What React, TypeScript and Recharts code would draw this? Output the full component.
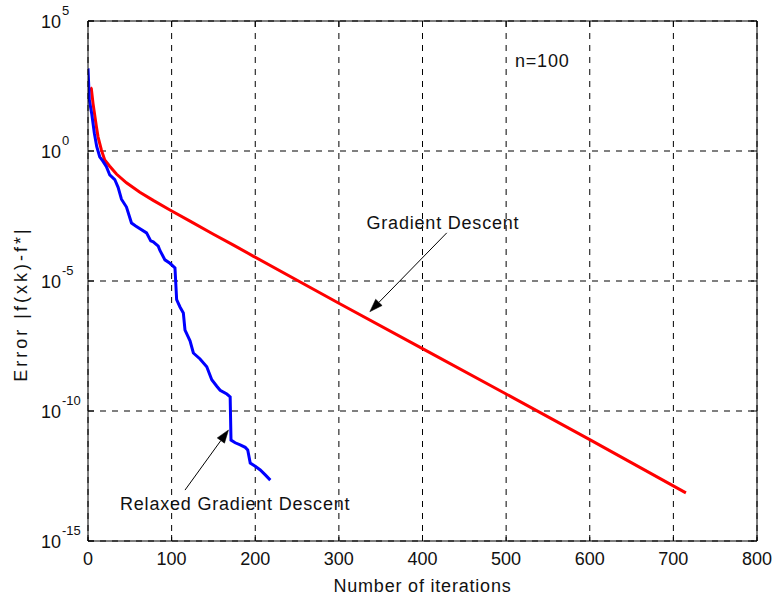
import React from "react";
import {
  LineChart,
  Line,
  XAxis,
  YAxis,
  CartesianGrid,
  ReferenceLine,
} from "recharts";

// ---------- data ----------
const GD_ITER = [3, 4, 6, 10, 12, 16, 20, 26, 34, 46, 62, 78, 98, 122, 150, 174, 198, 300, 400, 500, 600, 715];
const GD_ERR = [
  2.8e2, 2.5e2, 6.8e1, 8.7, 3.5, 1.1, 4.5e-1, 2.6e-1, 1.3e-1, 6.0e-2, 2.6e-2, 1.26e-2,
  5.4e-3, 2.0e-3, 6.3e-4, 2.4e-4, 8.9e-5, 1.4e-6, 2.5e-8, 4.5e-10, 7.9e-12, 7.1e-14,
];

const RGD_ITER = [
  0, 1.6, 4.4, 7.6, 10.4, 14, 18, 22, 26, 32, 36, 40, 46, 52, 57, 70, 75, 78, 84, 86, 92,
  98, 104, 106, 110, 114, 116, 122, 126, 134, 142, 148, 154, 158, 166, 170, 171, 176, 182,
  188, 191, 194, 200, 206, 212, 218,
];
const RGD_ERR = [
  1.5e3, 9.1e1, 2.8e1, 4.8, 1.5, 6.0e-1, 4.0e-1, 2.5e-1, 1.2e-1, 8.0e-2, 4.0e-2, 1.4e-2,
  7.0e-3, 1.7e-3, 1.3e-3, 7.1e-4, 3.5e-4, 3.2e-4, 2.2e-4, 1.5e-4, 6.5e-5, 4.8e-5, 3.2e-5,
  1.9e-6, 1.0e-6, 5.9e-7, 1.3e-7, 5.0e-8, 1.7e-8, 1.0e-8, 5.0e-9, 1.6e-9, 9.0e-10, 6.3e-10,
  4.5e-10, 3.5e-10, 7.6e-12, 6.0e-12, 5.0e-12, 4.0e-12, 3.2e-12, 1.0e-12, 7.5e-13, 5.4e-13,
  3.5e-13, 2.2e-13,
];

const X_TICKS = [0, 100, 200, 300, 400, 500, 600, 700, 800];
const Y_TICKS = [1e-15, 1e-10, 1e-5, 1, 1e5];
const Y_EXP: Record<string, string> = {
  "1e-15": "-15",
  "1e-10": "-10",
  "0.00001": "-5",
  "1": "0",
  "100000": "5",
};

const gdData = GD_ITER.map((x, i) => ({ x, y: GD_ERR[i] }));
const rgdData = RGD_ITER.map((x, i) => ({ x, y: RGD_ERR[i] }));

// ---------- layout ----------
const W = 774;
const H = 599;
const PLOT_LEFT = 88;
const PLOT_RIGHT = 757;
const PLOT_TOP = 21;
const PLOT_BOTTOM = 541;
const FONT = "'Liberation Sans', Arial, sans-serif";
const TEXT_FILL = "#111";

const expOf = (v: number): string => {
  const k = String(v);
  if (Y_EXP[k] !== undefined) return Y_EXP[k];
  return String(Math.round(Math.log10(v)));
};

const YTick = (props: any) => {
  const { y, payload } = props;
  const e = expOf(payload.value);
  return (
    <g>
      <line x1={PLOT_LEFT} x2={PLOT_LEFT + 6} y1={y} y2={y} stroke="#000" strokeWidth={1} />
      <line x1={PLOT_RIGHT - 6} x2={PLOT_RIGHT} y1={y} y2={y} stroke="#000" strokeWidth={1} />
      <text x={PLOT_LEFT - 27} y={y + 6.5} textAnchor="end" fontSize={18} fontFamily={FONT} fill={TEXT_FILL}>
        10
      </text>
      <text x={PLOT_LEFT - 26} y={y - 6} textAnchor="start" fontSize={13} fontFamily={FONT} fill={TEXT_FILL}>
        {e}
      </text>
    </g>
  );
};

const XTick = (props: any) => {
  const { x, payload } = props;
  return (
    <g>
      <line x1={x} x2={x} y1={PLOT_BOTTOM} y2={PLOT_BOTTOM - 6} stroke="#000" strokeWidth={1} />
      <line x1={x} x2={x} y1={PLOT_TOP} y2={PLOT_TOP + 6} stroke="#000" strokeWidth={1} />
      <text x={x} y={PLOT_BOTTOM + 24} textAnchor="middle" fontSize={18} fontFamily={FONT} fill={TEXT_FILL}>
        {payload.value}
      </text>
    </g>
  );
};

const Arrow = (p: any) => {
  const { x1, y1, x2, y2 } = p;
  if ([x1, y1, x2, y2].some((v) => v === undefined || isNaN(v))) return null;
  const dx = x2 - x1;
  const dy = y2 - y1;
  const L = Math.hypot(dx, dy) || 1;
  const ux = dx / L;
  const uy = dy / L;
  const hl = 13;
  const hw = 4.5;
  const bx = x2 - ux * hl;
  const by = y2 - uy * hl;
  const pts = `${x2},${y2} ${bx - uy * hw},${by + ux * hw} ${bx + uy * hw},${by - ux * hw}`;
  return (
    <g>
      <line x1={x1} y1={y1} x2={bx} y2={by} stroke="#000" strokeWidth={1} />
      <polygon points={pts} fill="#000" stroke="#000" strokeWidth={0.5} />
    </g>
  );
};

export default function App() {
  return (
    <div style={{ position: "absolute", left: 0, top: 0, width: W, height: H, background: "#fff" }}>
      <LineChart
        width={W}
        height={H}
        margin={{ top: PLOT_TOP, right: W - PLOT_RIGHT, bottom: H - PLOT_BOTTOM - 30, left: 0 }}
      >
        <CartesianGrid stroke="#000" strokeWidth={1} strokeDasharray="6 6" />
        <XAxis
          type="number"
          dataKey="x"
          domain={[0, 800]}
          ticks={X_TICKS}
          allowDataOverflow
          height={30}
          tickLine={false}
          axisLine={{ stroke: "#000", strokeWidth: 1 }}
          tick={<XTick />}
          interval={0}
        />
        <YAxis
          type="number"
          dataKey="y"
          scale="log"
          domain={[1e-15, 1e5]}
          ticks={Y_TICKS}
          allowDataOverflow
          width={PLOT_LEFT}
          tickLine={false}
          axisLine={{ stroke: "#000", strokeWidth: 1 }}
          tick={<YTick />}
          interval={0}
        />
        <ReferenceLine x={800} stroke="#000" strokeWidth={1} />
        <ReferenceLine y={1e5} stroke="#000" strokeWidth={1} />
        <Line
          data={gdData}
          dataKey="y"
          type="linear"
          stroke="#ff0000"
          strokeWidth={3}
          dot={false}
          isAnimationActive={false}
        />
        <Line
          data={rgdData}
          dataKey="y"
          type="linear"
          stroke="#0000ff"
          strokeWidth={3}
          dot={false}
          isAnimationActive={false}
        />
        <ReferenceLine
          segment={[
            { x: 429, y: 7.1e-4 },
            { x: 337, y: 6.6e-7 },
          ]}
          shape={<Arrow />}
        />
        <ReferenceLine
          segment={[
            { x: 116, y: 9.1e-14 },
            { x: 168, y: 1.86e-11 },
          ]}
          shape={<Arrow />}
        />
        <text x={366.5} y={229} fontSize={18} fontFamily={FONT} letterSpacing={0.8} fill={TEXT_FILL}>
          Gradient Descent
        </text>
        <text x={120} y={510} fontSize={18} fontFamily={FONT} letterSpacing={0.8} fill={TEXT_FILL}>
          Relaxed Gradient Descent
        </text>
        <text x={515} y={67} fontSize={18} fontFamily={FONT} letterSpacing={0.8} fill={TEXT_FILL}>
          n=100
        </text>
        <text
          x={(PLOT_LEFT + PLOT_RIGHT) / 2}
          y={592}
          textAnchor="middle"
          fontSize={18}
          fontFamily={FONT}
          letterSpacing={0.8}
          fill={TEXT_FILL}
        >
          Number of iterations
        </text>
        <text
          transform="translate(27,304) rotate(-90)"
          x={0}
          y={0}
          textAnchor="middle"
          fontSize={18}
          fontFamily={FONT}
          letterSpacing={3}
          fill={TEXT_FILL}
        >
          Error |f(xk)-f*|
        </text>
      </LineChart>
    </div>
  );
}
